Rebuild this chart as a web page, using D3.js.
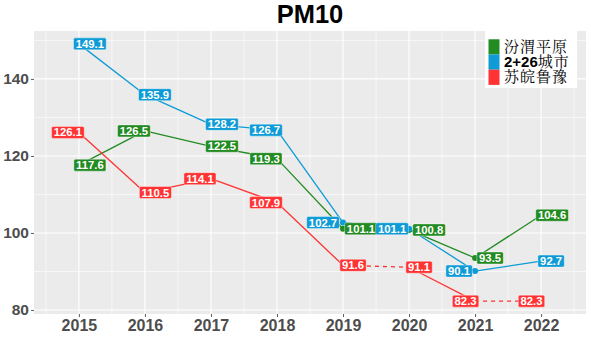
<!DOCTYPE html>
<html><head><meta charset="utf-8">
<script src="https://cdn.jsdelivr.net/npm/d3@7"></script>
<style>body{margin:0;background:#fff}svg{display:block}</style>
</head><body>
<svg id="c" width="591" height="355"></svg>
<script>
const years = [2015, 2016, 2017, 2018, 2019, 2020, 2021, 2022];
const seriesNames = ["汾渭平原", "2+26城市", "苏皖鲁豫"];
const fenwei = [117.6, 126.5, 122.5, 119.3, 101.1, 100.8, 93.5, 104.6];
const city226 = [149.1, 135.9, 128.2, 126.7, 102.7, 101.1, 90.1, 92.7];
const suwan = [126.1, 110.5, 114.1, 107.9, 91.6, 91.1, 82.3, 82.3];
const yTicks = [80, 100, 120, 140];
const title = "PM10";
// red series: segments drawn dashed (index of segment start)
const dashedSegments = [4, 6];

const colors = ["#228B22", "#0E9BD6", "#FF3333"];
// label nudges (px, horizontal) like ggrepel output
const nudges = [
  [11, -11, 11, -11, 18, 20, 15, 11],
  [11, 10, 11, -11, -20, -17, -16, 10],
  [-11, 10.5, -11, -11, 10, 10, -9.5, -9.6]
];
const values = [fenwei, city226, suwan];

const svg = d3.select("#c");
const W = 591, H = 355;
const m = {l: 34, r: 5, t: 31, b: 41};
const x = d3.scaleLinear().domain([2014.32, 2022.68]).range([m.l, W - m.r]);
const allV = values.flat();
const lo = d3.min(allV), hi = d3.max(allV), pad = (hi - lo) * 0.05;
const y = d3.scaleLinear().domain([lo - pad, hi + pad]).range([H - m.b, m.t]);

// panel
svg.append("rect").attr("x", m.l).attr("y", m.t)
  .attr("width", W - m.r - m.l).attr("height", H - m.b - m.t).attr("fill", "#EBEBEB");

const g = svg.append("g");
// minor grid
const minorY = [90, 110, 130, 150];
const minorX = d3.range(2014.5, 2023, 1);
g.selectAll(".mny").data(minorY).join("line")
  .attr("x1", m.l).attr("x2", W - m.r).attr("y1", d => y(d)).attr("y2", d => y(d))
  .attr("stroke", "#fff").attr("stroke-width", 0.6);
g.selectAll(".mnx").data(minorX).join("line")
  .attr("y1", m.t).attr("y2", H - m.b).attr("x1", d => x(d)).attr("x2", d => x(d))
  .attr("stroke", "#fff").attr("stroke-width", 0.6);
g.selectAll(".mjy").data(yTicks).join("line")
  .attr("x1", m.l).attr("x2", W - m.r).attr("y1", d => y(d)).attr("y2", d => y(d))
  .attr("stroke", "#fff").attr("stroke-width", 1.1);
g.selectAll(".mjx").data(years).join("line")
  .attr("y1", m.t).attr("y2", H - m.b).attr("x1", d => x(d)).attr("x2", d => x(d))
  .attr("stroke", "#fff").attr("stroke-width", 1.1);

// axes
const yAxis = d3.axisLeft(y).tickValues(yTicks).tickSize(3).tickPadding(2).tickFormat(d3.format("d"));
const ya = svg.append("g").attr("transform", `translate(${m.l},0)`).call(yAxis);
const xAxis = d3.axisBottom(x).tickValues(years).tickSize(3).tickPadding(3).tickFormat(d3.format("d"));
const xa = svg.append("g").attr("transform", `translate(0,${H - m.b})`).call(xAxis);
[ya, xa].forEach(a => {
  a.select(".domain").remove();
  a.selectAll(".tick line").attr("stroke", "#333").attr("stroke-width", 0.8);
  a.selectAll(".tick text").attr("fill", "#4D4D4D").attr("font-family", "Liberation Sans, Arial, sans-serif")
    .attr("font-weight", "bold");
});
ya.selectAll(".tick text").attr("font-size", 15.5);
xa.selectAll(".tick text").attr("font-size", 16);

// lines
values.forEach((vals, si) => {
  const pts = years.map((yr, i) => [x(yr), y(vals[i])]);
  for (let i = 0; i < pts.length - 1; i++) {
    const dashed = si === 2 && dashedSegments.includes(i);
    svg.append("line").attr("x1", pts[i][0]).attr("y1", pts[i][1])
      .attr("x2", pts[i + 1][0]).attr("y2", pts[i + 1][1])
      .attr("stroke", colors[si]).attr("stroke-width", 1.3)
      .attr("stroke-dasharray", dashed ? "4,4" : null);
  }
  svg.append("g").selectAll("circle").data(pts).join("circle")
    .attr("cx", d => d[0]).attr("cy", d => d[1]).attr("r", 3).attr("fill", colors[si]);
});

// labels
values.forEach((vals, si) => {
  years.forEach((yr, i) => {
    const cx = x(yr) + nudges[si][i], cy = y(vals[i]);
    const txt = d3.format(".1f")(vals[i]);
    const lg = svg.append("g");
    const t = lg.append("text").attr("x", cx).attr("y", cy + 4)
      .attr("text-anchor", "middle").attr("fill", "#fff")
      .attr("font-family", "Liberation Sans, Arial, sans-serif").attr("font-weight", "bold")
      .attr("font-size", 11.3).text(txt);
    const bb = t.node().getBBox();
    lg.insert("rect", "text").attr("x", bb.x - 2.2).attr("y", cy - 6)
      .attr("width", bb.width + 4.4).attr("height", 12).attr("rx", 1.5)
      .attr("fill", colors[si]).attr("stroke", "#fff").attr("stroke-width", 0.4);
  });
});

// title
svg.append("text").attr("x", (m.l + W - m.r) / 2).attr("y", 23).attr("text-anchor", "middle")
  .attr("font-family", "Liberation Sans, Arial, sans-serif").attr("font-weight", "bold")
  .attr("font-size", 25.5).attr("fill", "#000").text(title);

// legend
const lgX = 485, lgY = 31;
svg.append("rect").attr("x", lgX).attr("y", lgY).attr("width", 92).attr("height", 57).attr("fill", "#fff");
seriesNames.forEach((n, i) => {
  const ry = 39.3 + i * 15.2;
  svg.append("rect").attr("x", 488.5).attr("y", ry).attr("width", 11).attr("height", 15.2).attr("fill", colors[i]);
  const t = svg.append("text").attr("x", 504).attr("y", ry + 12.5)
    .attr("font-size", 15).attr("letter-spacing", 1).attr("fill", "#000")
    .attr("font-family", "Noto Serif CJK SC, Noto Sans CJK SC, sans-serif");
  const mm = n.match(/^([0-9+]*)(.*)$/);
  if (mm[1]) t.append("tspan").attr("font-family", "Liberation Sans, Arial, sans-serif")
    .attr("font-weight", "bold").attr("letter-spacing", 0).text(mm[1]);
  t.append("tspan").text(mm[2]);
});
</script>
</body></html>
